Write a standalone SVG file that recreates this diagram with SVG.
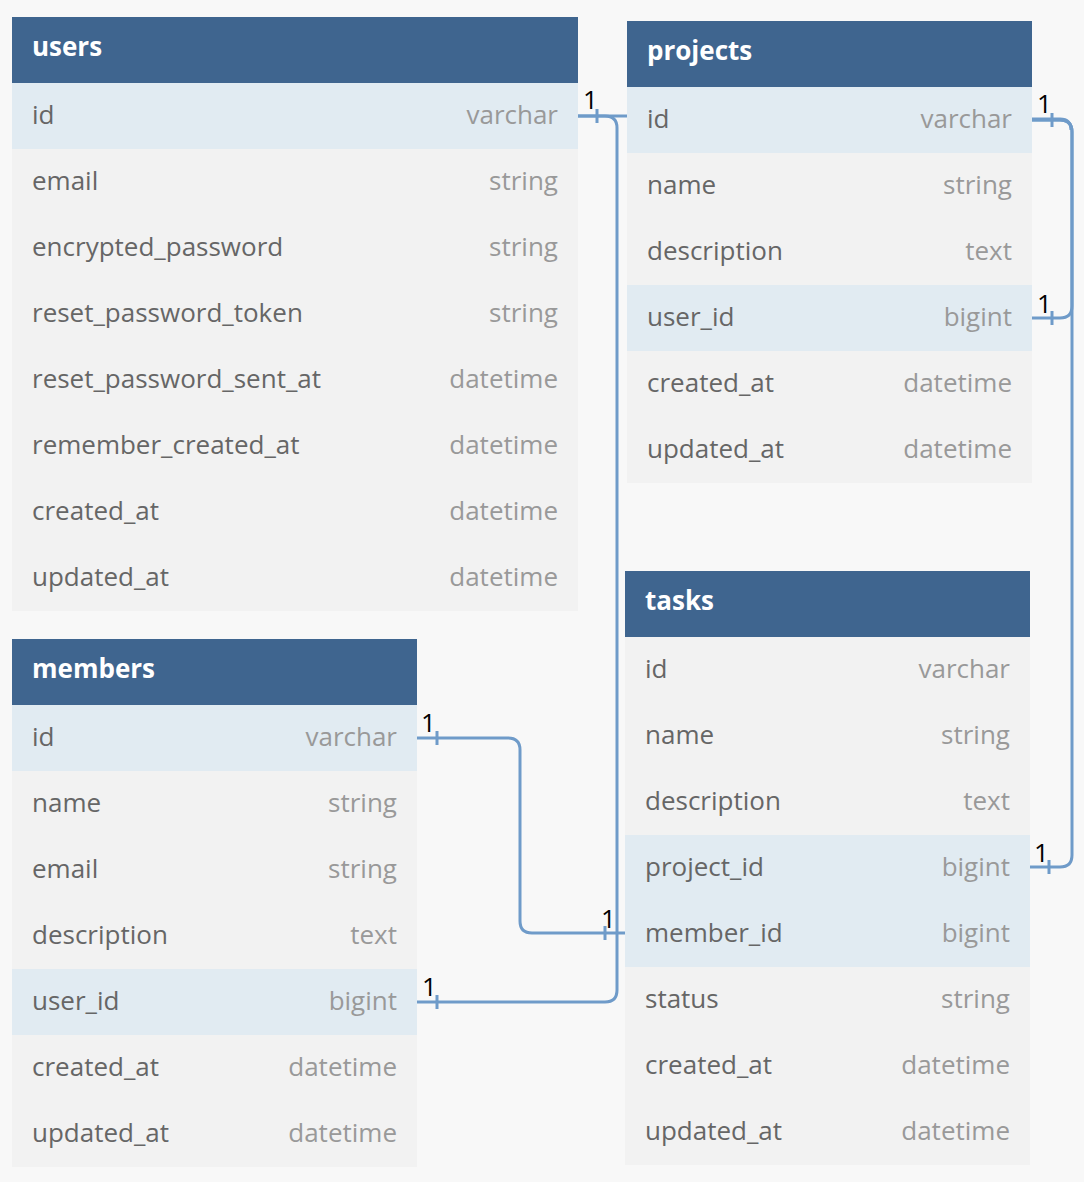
<svg xmlns="http://www.w3.org/2000/svg" width="1084" height="1182" viewBox="0 0 1084 1182">
<style>
.hd{fill:#3f658f}
.r{fill:#f2f2f2}
.k{fill:#e1ebf2}
.ht{font-family:"Open Sans","Liberation Sans",sans-serif;font-size:26px;font-weight:bold;fill:#ffffff}
.n{font-family:"Open Sans","Liberation Sans",sans-serif;font-size:26px;fill:#666666}
.t{font-family:"Open Sans","Liberation Sans",sans-serif;font-size:26px;fill:#999999;text-anchor:end}
.c{fill:none;stroke:#6f9bc9;stroke-width:3}
.one{font-family:"Open Sans","Liberation Sans",sans-serif;font-size:26px;fill:#000000}
</style>
<rect width="1084" height="1182" fill="#f8f8f8"/>
<g id="connectors">
<path class="c" d="M578 116 H627"/>
<path class="c" d="M578 116 H605 Q617 116 617 128 V990 Q617 1002 605 1002 H417"/>
<path class="c" d="M417 738 H508 Q520 738 520 750 V921 Q520 933 532 933 H625"/>
<path class="c" d="M1032 120 H1060 Q1072 120 1072 132 V306 Q1072 318 1060 318 H1032"/>
<path class="c" d="M1032 120 H1060 Q1072 120 1072 132 V855 Q1072 867 1060 867 H1030"/>
<path class="c" d="M1032 119 H1060 Q1071 119 1071 130" stroke-width="5"/>
<path class="c" d="M597 109 V123 M1052 113 V127 M1052 311 V325 M1049 860 V874 M437 731 V745 M605 926 V940 M437 995 V1009"/>
<text class="one" x="583" y="109">1</text>
<text class="one" x="1037" y="113">1</text>
<text class="one" x="1037" y="313">1</text>
<text class="one" x="1034" y="862">1</text>
<text class="one" x="421" y="732">1</text>
<text class="one" x="601" y="928">1</text>
<text class="one" x="422" y="996">1</text>
</g>
<g id="users">
<rect class="hd" x="12" y="17" width="566" height="66"/>
<text class="ht" x="32" y="56">users</text>
<rect class="k" x="12" y="83" width="566" height="66"/>
<rect class="r" x="12" y="149" width="566" height="462"/>
<text class="n" x="32" y="124">id</text><text class="t" x="558" y="124">varchar</text>
<text class="n" x="32" y="190">email</text><text class="t" x="558" y="190">string</text>
<text class="n" x="32" y="256">encrypted_password</text><text class="t" x="558" y="256">string</text>
<text class="n" x="32" y="322">reset_password_token</text><text class="t" x="558" y="322">string</text>
<text class="n" x="32" y="388">reset_password_sent_at</text><text class="t" x="558" y="388">datetime</text>
<text class="n" x="32" y="454">remember_created_at</text><text class="t" x="558" y="454">datetime</text>
<text class="n" x="32" y="520">created_at</text><text class="t" x="558" y="520">datetime</text>
<text class="n" x="32" y="586">updated_at</text><text class="t" x="558" y="586">datetime</text>
</g>
<g id="projects">
<rect class="hd" x="627" y="21" width="405" height="66"/>
<text class="ht" x="647" y="60">projects</text>
<rect class="k" x="627" y="87" width="405" height="66"/>
<rect class="r" x="627" y="153" width="405" height="132"/>
<rect class="k" x="627" y="285" width="405" height="66"/>
<rect class="r" x="627" y="351" width="405" height="132"/>
<text class="n" x="647" y="128">id</text><text class="t" x="1012" y="128">varchar</text>
<text class="n" x="647" y="194">name</text><text class="t" x="1012" y="194">string</text>
<text class="n" x="647" y="260">description</text><text class="t" x="1012" y="260">text</text>
<text class="n" x="647" y="326">user_id</text><text class="t" x="1012" y="326">bigint</text>
<text class="n" x="647" y="392">created_at</text><text class="t" x="1012" y="392">datetime</text>
<text class="n" x="647" y="458">updated_at</text><text class="t" x="1012" y="458">datetime</text>
</g>
<g id="tasks">
<rect class="hd" x="625" y="571" width="405" height="66"/>
<text class="ht" x="645" y="610">tasks</text>
<rect class="r" x="625" y="637" width="405" height="198"/>
<rect class="k" x="625" y="835" width="405" height="132"/>
<rect class="r" x="625" y="967" width="405" height="198"/>
<text class="n" x="645" y="678">id</text><text class="t" x="1010" y="678">varchar</text>
<text class="n" x="645" y="744">name</text><text class="t" x="1010" y="744">string</text>
<text class="n" x="645" y="810">description</text><text class="t" x="1010" y="810">text</text>
<text class="n" x="645" y="876">project_id</text><text class="t" x="1010" y="876">bigint</text>
<text class="n" x="645" y="942">member_id</text><text class="t" x="1010" y="942">bigint</text>
<text class="n" x="645" y="1008">status</text><text class="t" x="1010" y="1008">string</text>
<text class="n" x="645" y="1074">created_at</text><text class="t" x="1010" y="1074">datetime</text>
<text class="n" x="645" y="1140">updated_at</text><text class="t" x="1010" y="1140">datetime</text>
</g>
<g id="members">
<rect class="hd" x="12" y="639" width="405" height="66"/>
<text class="ht" x="32" y="678">members</text>
<rect class="k" x="12" y="705" width="405" height="66"/>
<rect class="r" x="12" y="771" width="405" height="198"/>
<rect class="k" x="12" y="969" width="405" height="66"/>
<rect class="r" x="12" y="1035" width="405" height="132"/>
<text class="n" x="32" y="746">id</text><text class="t" x="397" y="746">varchar</text>
<text class="n" x="32" y="812">name</text><text class="t" x="397" y="812">string</text>
<text class="n" x="32" y="878">email</text><text class="t" x="397" y="878">string</text>
<text class="n" x="32" y="944">description</text><text class="t" x="397" y="944">text</text>
<text class="n" x="32" y="1010">user_id</text><text class="t" x="397" y="1010">bigint</text>
<text class="n" x="32" y="1076">created_at</text><text class="t" x="397" y="1076">datetime</text>
<text class="n" x="32" y="1142">updated_at</text><text class="t" x="397" y="1142">datetime</text>
</g>
</svg>
